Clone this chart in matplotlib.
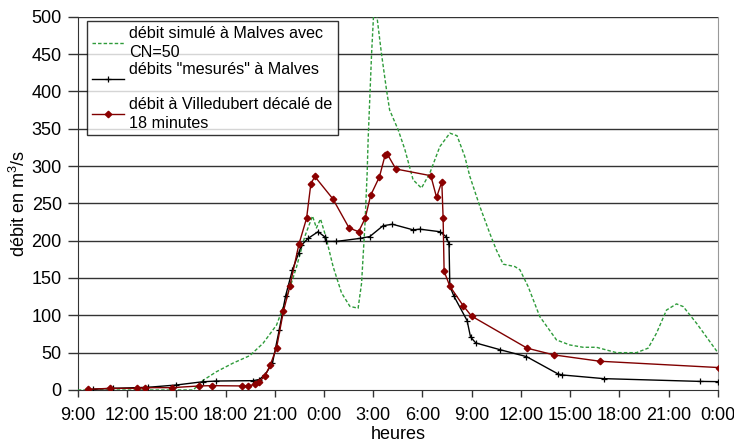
import matplotlib
matplotlib.use("Agg")
import matplotlib.pyplot as plt

plt.rcParams['font.family'] = ['Liberation Sans', 'DejaVu Sans']
plt.rcParams['mathtext.fontset'] = 'custom'
plt.rcParams['mathtext.rm'] = 'Liberation Sans'

# hours since 0:00 of day 1 (9:00 -> 9, next-day 0:00 -> 48)
sim_h = [9.0, 16.03, 16.64, 17.45, 18.46, 19.48, 20.29, 21.11, 21.72, 22.33, 22.83,
         23.30, 23.54, 23.79, 24.11, 24.56, 25.07, 25.58, 26.08, 26.29, 26.49, 26.63,
         26.69, 26.9, 27.04, 27.2, 27.5, 27.81, 28.0, 28.52, 28.93, 29.43, 29.94,
         30.45, 31.06, 31.67, 32.11, 32.58, 32.89, 33.5, 34.1, 34.5, 34.92, 35.63,
         35.94, 36.44, 37.15, 38.17, 38.98, 39.79, 40.6, 41.82, 43.04, 43.75, 44.26,
         44.87, 45.48, 45.89, 46.7, 48.0]
sim_q = [0, 0, 13, 24.5, 36, 46, 62.6, 87, 123, 165, 205.5,
         233, 217, 229, 205.5, 165, 130, 112, 109.5, 143, 219, 290,
         335, 450, 510, 505, 451, 402, 375, 348.5, 322, 281.5, 270.4,
         290.5, 326, 344, 340.5, 312.7, 286, 245.7, 210, 187.7, 168.5, 165.3,
         161, 138.5, 98.3, 67, 60.3, 57.2, 57.2, 50, 50, 56, 76,
         107, 115.3, 111.7, 89.4, 50]

mes_h = [9.93, 11.15, 13.28, 15.01, 16.6, 17.45, 19.68, 20.05, 20.4, 20.86, 21.27,
         21.66, 22.08, 22.47, 22.63, 23.03, 23.64, 24.05, 24.11, 24.76, 26.18, 26.79,
         27.6, 28.17, 29.43, 29.84, 31.06, 31.46, 31.62, 31.67, 31.91, 32.72, 32.93,
         33.25, 34.72, 36.34, 38.27, 38.53, 41.05, 46.9, 47.98]
mes_q = [1, 2.2, 3.6, 6.7, 11, 12, 12.5, 14, 20, 36, 80,
         126, 161, 184, 194, 203, 212, 205, 199, 199, 203, 205.5,
         220, 222, 214.5, 215.4, 212, 205, 195, 139, 126, 93, 71,
         63, 54, 44.7, 21.4, 20.1, 15.2, 11.5, 11.2]

vil_h = [9.61, 10.95, 12.61, 13.08, 14.73, 16.41, 17.18, 19.03, 19.38, 19.79, 20.05,
         20.41, 20.72, 21.11, 21.53, 21.92, 22.47, 22.94, 23.20, 23.44, 24.54, 25.53,
         26.11, 26.51, 26.85, 27.38, 27.73, 27.87, 28.38, 30.51, 30.86, 31.18, 31.26,
         31.32, 31.67, 32.48, 32.99, 36.38, 38.0, 40.81, 48.08]
vil_q = [0.9, 2.2, 2.2, 3.1, 3.1, 5.4, 5.8, 5.4, 5.4, 7.6, 11,
         19, 33, 56.5, 105.5, 139, 195, 230, 276, 286, 256, 217,
         212, 230, 261, 285.5, 315, 315.5, 296, 287, 258, 279, 230,
         159, 139, 113, 99, 56, 47, 38.5, 30]

x_ticks = [9, 12, 15, 18, 21, 24, 27, 30, 33, 36, 39, 42, 45, 48]
x_labels = ["9:00", "12:00", "15:00", "18:00", "21:00", "0:00", "3:00", "6:00",
            "9:00", "12:00", "15:00", "18:00", "21:00", "0:00"]
y_ticks = list(range(0, 501, 50))

fig = plt.figure(figsize=(7.34, 4.46), dpi=100)
ax = fig.add_axes([0.106, 0.1256, 0.872, 0.837])

for y in y_ticks[1:]:
    ax.axhline(y, color='#333333', lw=1.0, zorder=1)

ax.plot(sim_h, sim_q, color='#2e9b3a', lw=1.0, ls=(0, (2.5, 1.5)),
        label="débit simulé à Malves avec\nCN=50", zorder=3)
ax.plot(mes_h, mes_q, color='#000000', lw=1.0, marker='+', ms=5, mew=0.9,
        label='débits "mesurés" à Malves\n ', zorder=4)
ax.plot(vil_h, vil_q, color='#800000', lw=1.0, marker='D', ms=3.3,
        mfc='#8b0000', mec='#8b0000',
        label="débit à Villedubert décalé de\n18 minutes", zorder=5)

ax.set_xlim(9, 48)
ax.set_ylim(0, 500)
ax.set_xticks(x_ticks)
ax.set_xticklabels(x_labels)
ax.set_yticks(y_ticks)
ax.tick_params(axis='both', labelsize=13, direction='out',
               color='#333333', width=1)
ax.tick_params(axis='x', length=5, pad=7)
ax.tick_params(axis='y', length=7, pad=4.5)

for s in ['left', 'bottom']:
    ax.spines[s].set_color('#333333')
ax.spines['right'].set_color('#999999')
ax.spines['top'].set_visible(False)

ax.set_xlabel("heures", fontsize=13, labelpad=2)
ax.set_ylabel(r"débit en m$^{\mathregular{3}}$/s", fontsize=13, labelpad=2)

leg = ax.legend(loc='upper left', bbox_to_anchor=(0.014, 0.988), fontsize=11.6,
                frameon=True, fancybox=False, edgecolor='#000000',
                handlelength=2.0, handletextpad=0.35, borderpad=0.3,
                labelspacing=0.12, borderaxespad=0)
for t in leg.get_texts():
    t.set_linespacing(1.3)
leg.get_frame().set_linewidth(1.0)
leg.set_zorder(10)

fig.savefig("out.png", dpi=100)
